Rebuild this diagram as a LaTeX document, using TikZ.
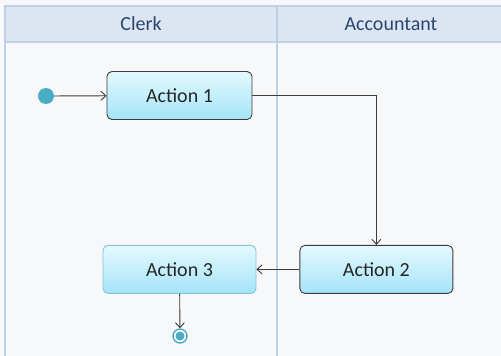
\documentclass[tikz,border=0pt]{standalone}
\usepackage{fontspec}
\setmainfont{Carlito}
\usepackage{xcolor}
\usetikzlibrary{arrows.meta,positioning}

\definecolor{paper}{HTML}{F7F8FA}
\definecolor{laneHead}{HTML}{DCE6F2}
\definecolor{laneLine}{HTML}{BFD0E6}
\definecolor{laneText}{HTML}{2A4670}
\definecolor{boxTop}{HTML}{E4F9FE}
\definecolor{boxBot}{HTML}{A4E4F9}
\definecolor{boxLine}{HTML}{3C3C3C}
\definecolor{dotFill}{HTML}{4BACC6}

\begin{document}
\begin{tikzpicture}[
  x=1pt, y=-1pt,
  lanehead/.style={draw=laneLine, line width=1.6pt, fill=laneHead},
  lanetext/.style={text=laneText, font=\fontsize{20}{24}\selectfont},
  action/.style={rectangle, draw=boxLine, line width=0.9pt, rounded corners=5pt,
    top color=boxTop, bottom color=boxBot, align=center, text=black!85,
    minimum width=153pt, minimum height=48pt, font=\fontsize{20}{24}\selectfont},
  arrow/.style={-{Straight Barb[length=5pt, width=9pt]}, draw=boxLine, line width=0.9pt}
]
\useasboundingbox[fill=paper] (0,0) rectangle (501,356);
% swimlanes
\draw[lanehead] (5,6) rectangle (277,42);
\draw[lanehead] (277,6) rectangle (503,42);
\draw[laneLine, line width=2pt] (5,42) -- (5,357);
\draw[laneLine, line width=2pt] (277,42) -- (277,357);
\node[lanetext] (clerk) at (141,24) {Clerk};
\node[lanetext] (accountant) at (391,24) {Accountant};
% activities
\node[action, minimum width=145pt] (act1) at (179.5,95.5) {Action 1};
\node[action, below=125pt of act1, draw=dotFill!70] (act3) {Action 3};
\node[action, right=43pt of act3] (act2) {Action 2};
\node[circle, fill=dotFill, minimum size=16pt, inner sep=0pt] (start) at (46,96) {};
\node[circle, draw=dotFill, line width=1.4pt, fill=white, minimum size=14pt, inner sep=0pt] (final) at (180,336) {};
\fill[dotFill] (final.center) circle (4.5pt);
% flows
\draw[arrow] (start) -- (act1);
\draw[arrow] (act1.east) -| (act2.north);
\draw[arrow] (act2) -- (act3);
\draw[arrow] (act3) -- (final);
\end{tikzpicture}
\end{document}
